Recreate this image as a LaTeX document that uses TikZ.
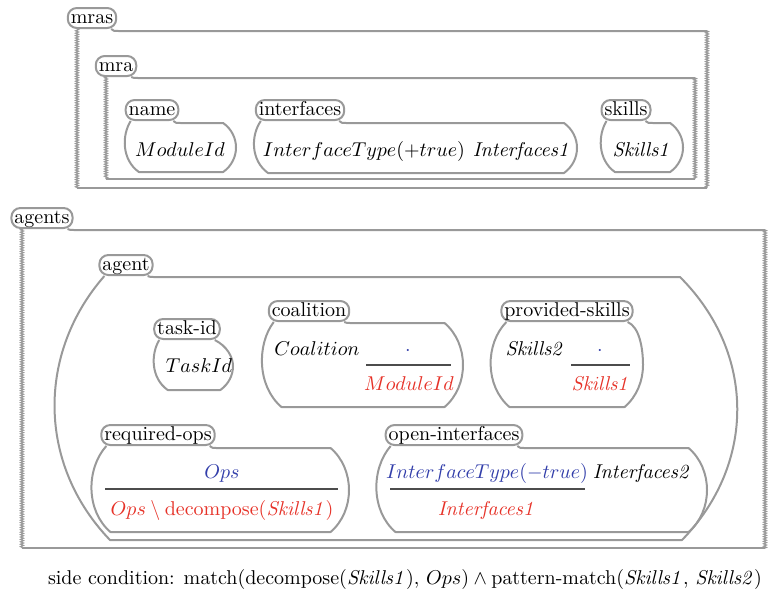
\documentclass[tikz,border=0pt]{standalone}
\usetikzlibrary{decorations.pathmorphing,calc}
\definecolor{cellgray}{RGB}{153,153,153}
\definecolor{readblue}{RGB}{50,62,170}
\definecolor{writered}{RGB}{230,50,40}
\pgfdeclarelayer{bg}
\pgfsetlayers{bg,main}

\tikzset{
  cellline/.style={draw=cellgray, line width=1pt, line join=round},
  celltab/.style={draw=cellgray, fill=white, line width=1pt, rounded corners=4.5pt,
    inner xsep=1.5pt, inner ysep=0.5pt, text height=7pt, text depth=2pt},
  ragged/.style={draw=cellgray, line width=0.6pt, decorate,
    decoration={zigzag, amplitude=0.7pt, segment length=1.2pt}},
  content/.style={anchor=base, inner sep=0pt},
  barline/.style={draw=black!70, line width=0.6pt},
}

% corner inset and bulge of a closed cell spanning #1..#2 vertically
\newcommand\leafgeom[2]{%
  \pgfmathsetmacro\ch{#2-#1}%
  \pgfmathsetmacro\cc{0.16*\ch+5}%
  \pgfmathsetmacro\ca{4*\cc/3}%
  \pgfmathsetmacro\cb{0.25*\ch}%
  \pgfmathsetmacro\cym{(#1+#2)/2}%
  \pgfmathsetmacro\cq{0.19*\ch}%
  \pgfmathsetmacro\cyl{(#1+3*#2-\cb)/4}%
}

% closed cell: #1 tab node, #2 left bulge x, #3 right bulge x, #4 top y, #5 bottom y
\newcommand\leafbody[5]{%
  \leafgeom{#4}{#5}%
  \draw[cellline]
    ([xshift=-3pt]#1.south east) .. controls ([xshift=-2pt]#1.south east |- 0,#4)
      .. ([xshift=2pt]#1.south east |- 0,#4)
    -- (#3-\cc,#4)
    .. controls (#3-\cc+\ca,#4+\cb) and (#3-\cc+\ca,#5-\cb) .. (#3-\cc,#5)
    -- (#2+\cc,#5)
    .. controls (#2+\cc-\ca,#5-\cb) and (#2+\cc-\ca,#4+\cb) .. ([xshift=3pt]#1.south west);
}

% closed cell whose tab reaches the right corner: no straight top edge
\newcommand\leafbodytight[5]{%
  \leafgeom{#4}{#5}%
  \draw[cellline]
    ([xshift=-3pt]#1.south east) .. controls ([xshift=3pt]#1.south east |- 0,#4+4)
      and (#3,\cym-\cq) .. (#3,\cym)
    .. controls (#3,\cyl) and (#3-\cc+\ca/2,#5-\cb/2) .. (#3-\cc,#5)
    -- (#2+\cc,#5)
    .. controls (#2+\cc-\ca,#5-\cb) and (#2+\cc-\ca,#4+\cb) .. ([xshift=3pt]#1.south west);
}

% open-ended bag: #1 tab node, #2 left x, #3 right x, #4 top y, #5 bottom y
\newcommand\bagbody[5]{%
  \draw[cellline]
    ([xshift=-3pt]#1.south east) .. controls ([xshift=-2pt]#1.south east |- 0,#4)
      .. ([xshift=2pt]#1.south east |- 0,#4) -- (#3,#4);
  \draw[cellline] (#2,#5) -- (#3,#5);
  \draw[ragged] (#2,#4-2) -- (#2,#5);
  \draw[ragged] (#3,#4) -- (#3,#5);
}

\begin{document}
\begin{tikzpicture}[x=0.5pt, y=-0.5pt]
  \path[use as bounding box] (0,0) rectangle (769,596);

  % ---- tabs ----
  \node[celltab] (t-mras) at (92,18) {mras};
  \node[celltab] (t-mra) at (116,66) {mra};
  \node[celltab] (t-name) at (152,110) {name};
  \node[celltab] (t-interfaces) at (300,110) {interfaces};
  \node[celltab] (t-skills) at (626,110) {skills};
  \node[celltab] (t-agents) at (42,218) {agents};
  \node[celltab] (t-agent) at (126,265) {agent};
  \node[celltab] (t-taskid) at (187,329) {task-id};
  \node[celltab] (t-coalition) at (309,311) {coalition};
  \node[celltab] (t-provided) at (567,311) {provided-skills};
  \node[celltab] (t-reqops) at (158,435) {required-ops};
  \node[celltab] (t-openif) at (454,435) {open-interfaces};

  % ---- cell bodies ----
  \begin{pgfonlayer}{bg}
    \bagbody{t-mras}{77}{707}{31}{188}
    \bagbody{t-mra}{106}{695}{78}{179}
    \leafbody{t-name}{126}{236}{123}{172}
    \leafbody{t-interfaces}{255}{577}{123}{173}
    \leafbody{t-skills}{602}{683}{123}{172}

    \bagbody{t-agents}{22}{765}{230}{548}
    \draw[cellline]
      ([xshift=-3pt]t-agent.south east) .. controls ([xshift=-2pt]t-agent.south east |- 0,277)
        .. ([xshift=2pt]t-agent.south east |- 0,277)
      -- (680,277) .. controls (756,353) and (756,464) .. (682,540)
      -- (110,540) .. controls (37,464) and (37,353) .. ([xshift=3pt]t-agent.south west);

    \leafbodytight{t-taskid}{155}{233}{342}{390}
    \leafbody{t-coalition}{263}{463}{323}{407}
    \leafbodytight{t-provided}{491}{643}{323}{407}
    \leafbody{t-reqops}{92}{349}{448}{532}
    \leafbody{t-openif}{377}{707}{448}{532}
  \end{pgfonlayer}

  % ---- cell contents ----
  \node[content] (c-name) at (180,156) {$ModuleId$};
  \node[content] (c-interfaces) at (417,156)
    {$InterfaceType(+true)\hspace{4pt}\mathit{Interfaces1}$};
  \node[content] (c-skills) at (642,156) {$\mathit{Skills1}$};

  \node[content] (c-taskid) at (199,372) {$TaskId$};

  \node[content] (c-coalition) at (317,355) {$Coalition$};
  \node[content] (c-coal-old) at (408,355) {$\color{readblue}\cdot$};
  \node[content] (c-coal-new) at (409,390) {$\color{writered}ModuleId$};
  \draw[barline] (366,365) -- (451,365);

  \node[content] (c-provided) at (535,355) {$\mathit{Skills2}$};
  \node[content] (c-prov-old) at (600,355) {$\color{readblue}\cdot$};
  \node[content] (c-prov-new) at (601,390) {$\color{writered}\mathit{Skills1}$};
  \draw[barline] (571,365) -- (630,365);

  \node[content] (c-req-old) at (222,478) {$\color{readblue}Ops$};
  \node[content] (c-req-new) at (222,515)
    {$\color{writered}Ops\setminus\mathrm{decompose}(\mathit{Skills1})$};
  \draw[barline] (105,489) -- (338,489);

  \node[content] (c-open-old) at (487,478) {$\color{readblue}InterfaceType(-true)$};
  \node[content] (c-open-new) at (487,515) {$\color{writered}\mathit{Interfaces1}$};
  \node[content] (c-open-rest) at (642,478) {$\mathit{Interfaces2}$};
  \draw[barline] (390,489) -- (585,489);

  % ---- side condition ----
  \node[content] (side) at (405,584) {side condition:
    $\mathrm{match}(\mathrm{decompose}(\mathit{Skills1}),\,Ops)\wedge
     \mathrm{pattern\mbox{-}match}(\mathit{Skills1},\,\mathit{Skills2})$};
\end{tikzpicture}
\end{document}
